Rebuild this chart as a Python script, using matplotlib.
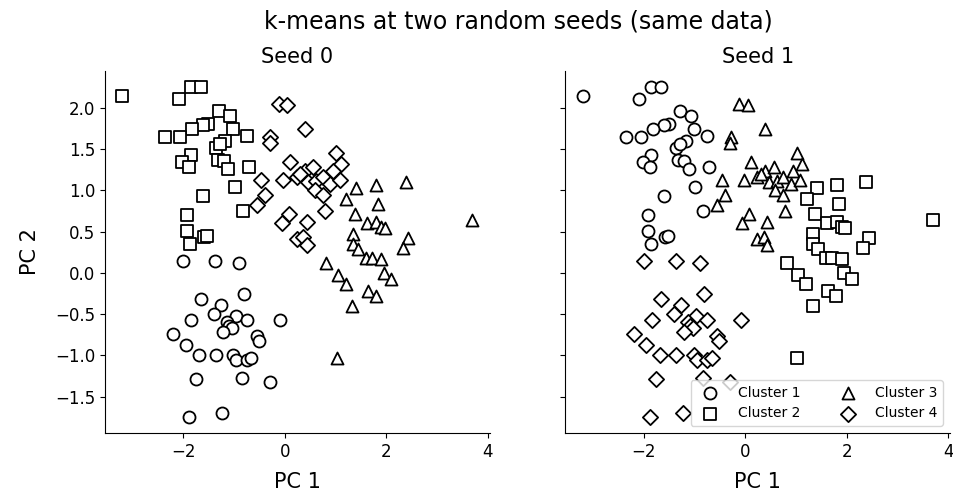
import matplotlib
matplotlib.use("Agg")
from matplotlib import pyplot as plt

# points grouped by the seed-0 partition (PC 1, PC 2)
pc1_a = [-2.00, -1.37, -0.90, -0.81, -1.66, -1.26, -1.40, -0.97, -0.75, -0.09,
         -1.84, -1.14, -1.10, -1.04, -1.21, -2.20, -0.55, -0.51, -1.95, -1.69,
         -1.36, -1.02, -0.96, -0.75, -0.66, -1.76, -0.84, -0.30, -1.88, -1.23]
pc2_a = [0.15, 0.14, 0.12, -0.25, -0.32, -0.39, -0.50, -0.52, -0.57, -0.57,
         -0.57, -0.60, -0.64, -0.67, -0.72, -0.74, -0.76, -0.83, -0.87, -0.99,
         -0.99, -0.99, -1.06, -1.05, -1.03, -1.28, -1.27, -1.32, -1.74, -1.70]

pc1_b = [-3.20, -1.85, -1.66, -2.09, -1.29, -1.08, -1.51, -1.61, -1.82, -1.02,
         -2.36, -2.06, -0.75, -1.17, -1.36, -1.28, -1.85, -2.02, -1.88, -1.32,
         -1.20, -1.12, -0.71, -0.99, -1.61, -0.83, -1.92, -1.92, -1.59, -1.53,
         -1.86]
pc2_b = [2.14, 2.25, 2.25, 2.11, 1.96, 1.90, 1.81, 1.79, 1.75, 1.75,
         1.65, 1.65, 1.66, 1.60, 1.52, 1.56, 1.43, 1.34, 1.29, 1.37,
         1.36, 1.26, 1.29, 1.04, 0.93, 0.75, 0.70, 0.51, 0.44, 0.45,
         0.35]

pc1_c = [-0.12, 0.05, -0.29, -0.30, 0.39, 0.11, -0.47, -0.03, 0.23, 0.39,
         0.56, 0.46, 0.62, 0.75, 0.59, 0.89, 1.01, 1.11, 0.94, 1.08,
         -0.40, -0.55, 0.75, 0.79, 0.08, -0.06, 0.43, 0.23, 0.36, 0.43,
         0.30]
pc2_c = [2.05, 2.04, 1.65, 1.57, 1.74, 1.34, 1.13, 1.13, 1.16, 1.23,
         1.28, 1.10, 1.12, 1.16, 1.01, 1.08, 1.45, 1.32, 1.24, 1.13,
         0.95, 0.82, 0.94, 0.75, 0.72, 0.60, 0.62, 0.41, 0.43, 0.34,
         1.20]

pc1_d = [1.41, 1.80, 2.38, 1.21, 1.84, 1.38, 1.61, 1.80, 1.90, 1.97,
         3.69, 1.34, 2.43, 1.34, 1.44, 2.32, 0.81, 1.59, 1.71, 1.90,
         1.04, 1.20, 1.95, 2.10, 1.63, 1.79, 1.33, 1.02]
pc2_d = [1.03, 1.06, 1.10, 0.90, 0.83, 0.71, 0.60, 0.62, 0.56, 0.55,
         0.64, 0.47, 0.42, 0.35, 0.29, 0.30, 0.12, 0.18, 0.18, 0.17,
         -0.02, -0.13, 0.00, -0.07, -0.22, -0.28, -0.40, -1.03]

# cluster id given to each group by each seed
seed0_cluster = {"a": 1, "b": 2, "c": 4, "d": 3}
seed1_cluster = {"a": 4, "b": 1, "c": 3, "d": 2}

MARKERS = {1: "o", 2: "s", 3: "^", 4: "D"}
SIZES = {1: 75, 2: 75, 3: 75, 4: 60}


def main():
    groups = {
        "a": (pc1_a, pc2_a),
        "b": (pc1_b, pc2_b),
        "c": (pc1_c, pc2_c),
        "d": (pc1_d, pc2_d),
    }
    fig, axes = plt.subplots(1, 2, figsize=(9.54, 4.92), dpi=100, sharey=True)
    fig.subplots_adjust(left=0.110, right=0.996, bottom=0.120, top=0.856,
                        wspace=0.197)
    _plot_seed(axes[0], groups, seed0_cluster, "Seed 0")
    _plot_seed(axes[1], groups, seed1_cluster, "Seed 1")
    axes[0].set_ylabel("PC 2", fontsize=15, labelpad=11)
    axes[1].tick_params(labelleft=False)

    handles, labels = axes[1].get_legend_handles_labels()
    order = sorted(range(len(labels)), key=lambda i: labels[i])
    axes[1].legend([handles[i] for i in order], [labels[i] for i in order],
                   loc="lower right", ncol=2, fontsize=10,
                   handletextpad=1.0, columnspacing=2.4)

    fig.suptitle("k-means at two random seeds (same data)", fontsize=17,
                 x=0.543, y=0.98)
    fig.savefig("out.png", dpi=100)


def _plot_seed(ax, groups, cluster_of, title):
    for key, (xs, ys) in groups.items():
        cid = cluster_of[key]
        ax.scatter(xs, ys, marker=MARKERS[cid], s=SIZES[cid],
                   facecolors="white", edgecolors="black", linewidths=1.3,
                   label="Cluster %d" % cid)
    ax.set_title(title, fontsize=15)
    ax.set_xlabel("PC 1", fontsize=15, labelpad=8)
    ax.tick_params(labelsize=12)
    ax.set_xticks([-2, 0, 2, 4])
    ax.set_yticks([-1.5, -1.0, -0.5, 0.0, 0.5, 1.0, 1.5, 2.0])
    ax.spines["top"].set_visible(False)
    ax.spines["right"].set_visible(False)


if __name__ == "__main__":
    main()
